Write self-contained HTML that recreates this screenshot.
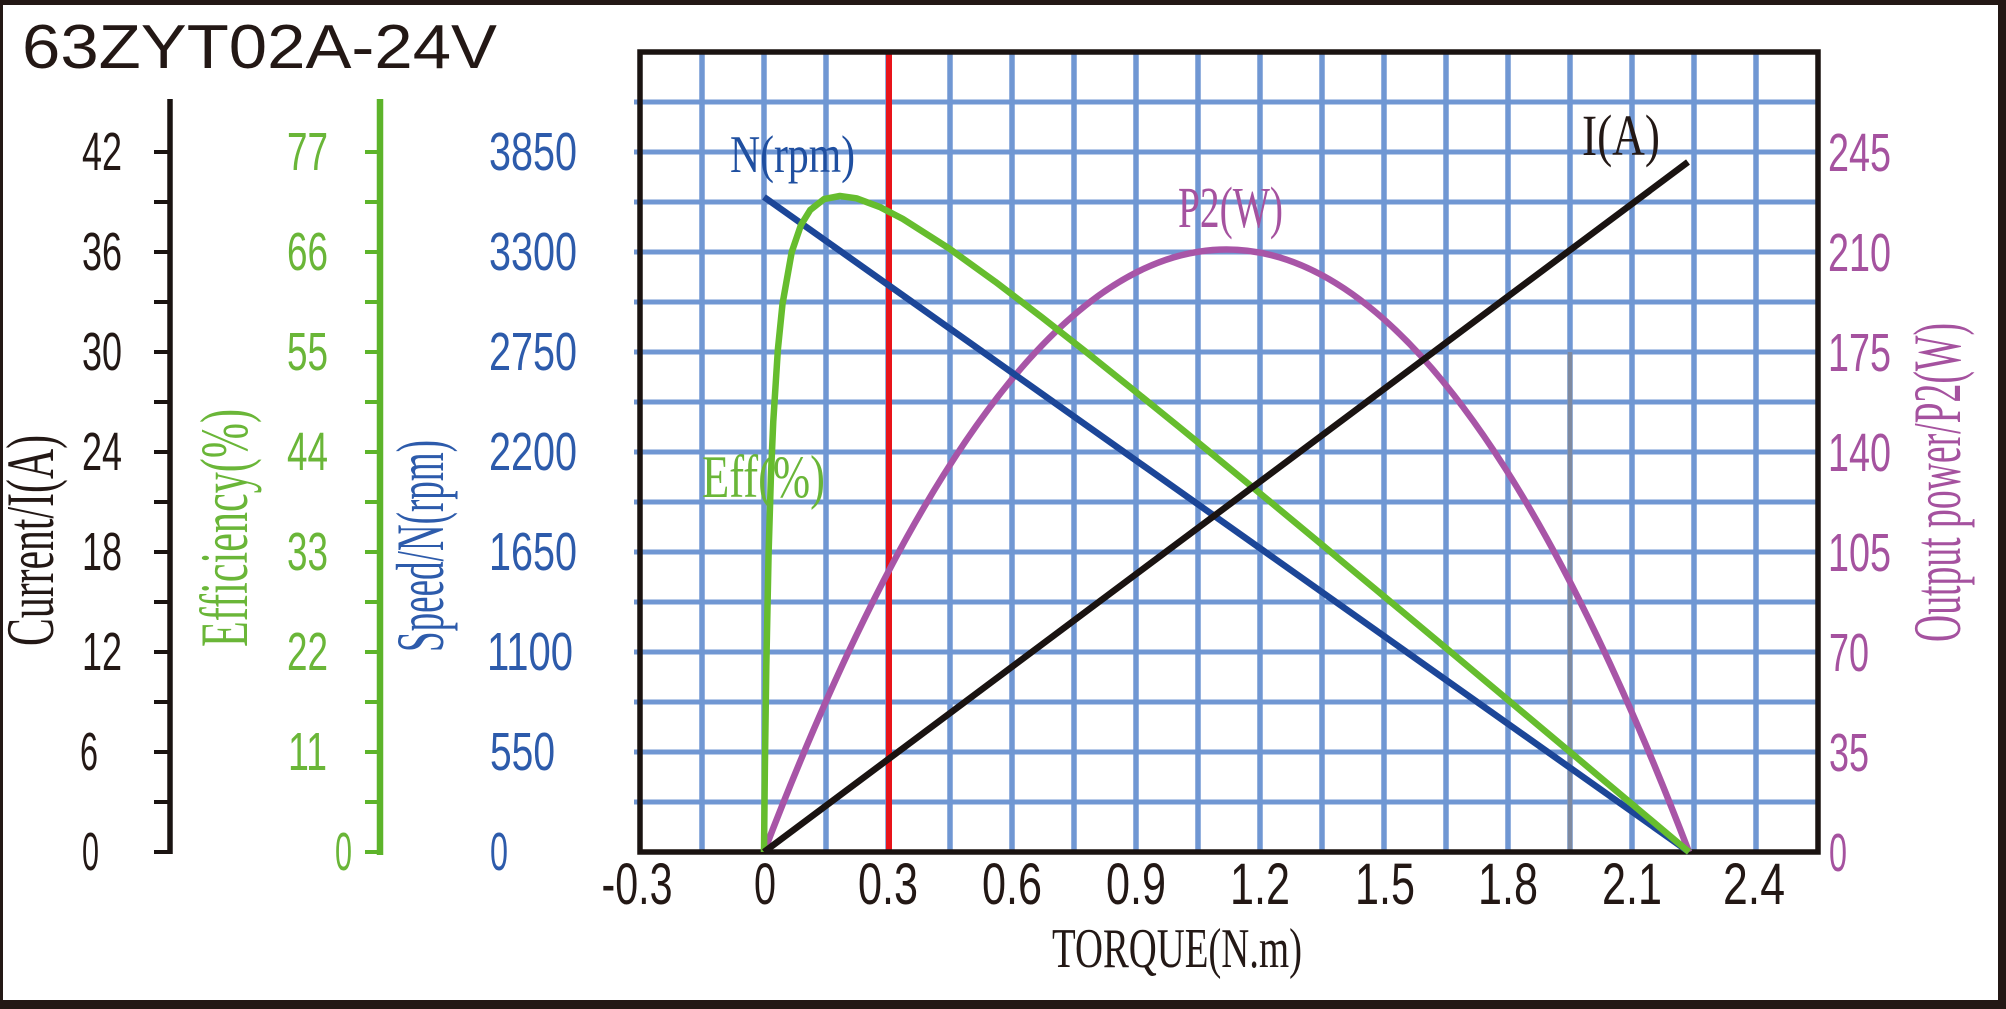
<!DOCTYPE html>
<html>
<head>
<meta charset="utf-8">
<style>
  html,body{margin:0;padding:0;background:#ffffff;}
  svg{display:block;}
</style>
</head>
<body>
<svg xmlns="http://www.w3.org/2000/svg" width="2006" height="1009" viewBox="0 0 2006 1009">
  <rect x="0" y="0" width="2006" height="1009" fill="#ffffff"/>
  <!-- outer frame -->
  <rect x="0" y="0" width="2006" height="5" fill="#231815"/>
  <rect x="0" y="0" width="3" height="1009" fill="#231815"/>
  <rect x="1998" y="0" width="8" height="1009" fill="#231815"/>
  <rect x="0" y="1000" width="2006" height="9" fill="#231815"/>

  <!-- title -->
  <text x="22" y="68" font-family="Liberation Sans, Arial, sans-serif" font-size="62" fill="#231815" textLength="475" lengthAdjust="spacingAndGlyphs">63ZYT02A-24V</text>

  <!-- grid -->
  <g stroke="#7097d3" stroke-width="5.5">
    <line x1="702" y1="52" x2="702" y2="852"/>
    <line x1="764" y1="52" x2="764" y2="852"/>
    <line x1="826" y1="52" x2="826" y2="852"/>
    <line x1="888" y1="52" x2="888" y2="852"/>
    <line x1="950" y1="52" x2="950" y2="852"/>
    <line x1="1012" y1="52" x2="1012" y2="852"/>
    <line x1="1074" y1="52" x2="1074" y2="852"/>
    <line x1="1136" y1="52" x2="1136" y2="852"/>
    <line x1="1198" y1="52" x2="1198" y2="852"/>
    <line x1="1260" y1="52" x2="1260" y2="852"/>
    <line x1="1322" y1="52" x2="1322" y2="852"/>
    <line x1="1384" y1="52" x2="1384" y2="852"/>
    <line x1="1446" y1="52" x2="1446" y2="852"/>
    <line x1="1508" y1="52" x2="1508" y2="852"/>
    <line x1="1570" y1="52" x2="1570" y2="852"/>
    <line x1="1632" y1="52" x2="1632" y2="852"/>
    <line x1="1694" y1="52" x2="1694" y2="852"/>
    <line x1="1756" y1="52" x2="1756" y2="852"/>
  </g>
  <g stroke="#7097d3" stroke-width="5">
    <line x1="634" y1="802" x2="1818" y2="802"/>
    <line x1="634" y1="752" x2="1818" y2="752"/>
    <line x1="634" y1="702" x2="1818" y2="702"/>
    <line x1="634" y1="652" x2="1818" y2="652"/>
    <line x1="634" y1="602" x2="1818" y2="602"/>
    <line x1="634" y1="552" x2="1818" y2="552"/>
    <line x1="634" y1="502" x2="1818" y2="502"/>
    <line x1="634" y1="452" x2="1818" y2="452"/>
    <line x1="634" y1="402" x2="1818" y2="402"/>
    <line x1="634" y1="352" x2="1818" y2="352"/>
    <line x1="634" y1="302" x2="1818" y2="302"/>
    <line x1="634" y1="252" x2="1818" y2="252"/>
    <line x1="634" y1="202" x2="1818" y2="202"/>
    <line x1="634" y1="152" x2="1818" y2="152"/>
    <line x1="634" y1="102" x2="1818" y2="102"/>
  </g>
  <!-- gray marker line -->
  <line x1="1570" y1="352" x2="1570" y2="852" stroke="#7f8aa0" stroke-width="4.5"/>

  <!-- red line -->
  <line x1="889" y1="52" x2="889" y2="852" stroke="#e8141a" stroke-width="6"/>

  <!-- plot border -->
  <rect x="640" y="52" width="1178" height="800" fill="none" stroke="#1a1311" stroke-width="5.5"/>

  <!-- curves -->
  <path d="M764,852 Q1226.5,-353 1689,852" fill="none" stroke="#a855a7" stroke-width="6.5"/>
  <line x1="764" y1="197" x2="1689" y2="852" stroke="#1c4698" stroke-width="6.5"/>
  <path d="M764,852 L764.9,765.5 L766.3,666.7 L768.6,553.1 L770.9,476.6 L773.25,421.8 L777.9,349.2 L782.5,303.9 L791.75,251.9 L801,224.9 L810.25,209.9 L824.1,199.1 L839.9,196 L856.5,198.3 L879.6,206.9 L902.75,218.9 L949,248.4 L995.25,281.7 L1041.5,317 L1087.75,353.3 L1134,390.4 L1180.25,427.9 L1226.5,465.8 L1272.75,503.9 L1319,542.2 L1365.25,580.7 L1411.5,619.2 L1457.75,657.9 L1504,696.6 L1550.25,735.4 L1596.5,774.2 L1642.75,813.1 L1689,852" fill="none" stroke="#66bd2e" stroke-width="6.5" stroke-linejoin="round"/>
  <line x1="764" y1="852" x2="1688" y2="162" stroke="#1a1311" stroke-width="6.5"/>

  <!-- in-plot labels -->
  <g font-family="Liberation Serif, Times New Roman, serif">
    <text x="730" y="172" font-size="53" fill="#1f4fa0" textLength="125" lengthAdjust="spacingAndGlyphs">N(rpm)</text>
    <text x="1582" y="155" font-size="58" fill="#231815" textLength="78" lengthAdjust="spacingAndGlyphs">I(A)</text>
    <text x="1178" y="227" font-size="58" fill="#a5529f" textLength="105" lengthAdjust="spacingAndGlyphs">P2(W)</text>
    <text x="702" y="497" font-size="60" fill="#6ab638" textLength="123" lengthAdjust="spacingAndGlyphs">Eff(%)</text>
    <text x="1052" y="967" font-size="56" fill="#231815" textLength="250" lengthAdjust="spacingAndGlyphs">TORQUE(N.m)</text>
  </g>

  <!-- x tick labels -->
  <g font-family="Liberation Sans, Arial, sans-serif" font-size="58" fill="#231815" text-anchor="middle">
    <text x="637" y="904" textLength="71" lengthAdjust="spacingAndGlyphs">-0.3</text>
    <text x="765" y="904" textLength="22" lengthAdjust="spacingAndGlyphs">0</text>
    <text x="888" y="904" textLength="60" lengthAdjust="spacingAndGlyphs">0.3</text>
    <text x="1012" y="904" textLength="60" lengthAdjust="spacingAndGlyphs">0.6</text>
    <text x="1136" y="904" textLength="60" lengthAdjust="spacingAndGlyphs">0.9</text>
    <text x="1260" y="904" textLength="60" lengthAdjust="spacingAndGlyphs">1.2</text>
    <text x="1385" y="904" textLength="60" lengthAdjust="spacingAndGlyphs">1.5</text>
    <text x="1508" y="904" textLength="60" lengthAdjust="spacingAndGlyphs">1.8</text>
    <text x="1632" y="904" textLength="60" lengthAdjust="spacingAndGlyphs">2.1</text>
    <text x="1754" y="904" textLength="62" lengthAdjust="spacingAndGlyphs">2.4</text>
  </g>

  <!-- current axis -->
  <g stroke="#1a1311">
    <line x1="170" y1="99" x2="170" y2="854" stroke-width="5.5"/>
    <g stroke-width="4">
      <line x1="154" y1="852" x2="170" y2="852"/>
      <line x1="154" y1="802" x2="170" y2="802"/>
      <line x1="154" y1="752" x2="170" y2="752"/>
      <line x1="154" y1="702" x2="170" y2="702"/>
      <line x1="154" y1="652" x2="170" y2="652"/>
      <line x1="154" y1="602" x2="170" y2="602"/>
      <line x1="154" y1="552" x2="170" y2="552"/>
      <line x1="154" y1="502" x2="170" y2="502"/>
      <line x1="154" y1="452" x2="170" y2="452"/>
      <line x1="154" y1="402" x2="170" y2="402"/>
      <line x1="154" y1="352" x2="170" y2="352"/>
      <line x1="154" y1="302" x2="170" y2="302"/>
      <line x1="154" y1="252" x2="170" y2="252"/>
      <line x1="154" y1="202" x2="170" y2="202"/>
      <line x1="154" y1="152" x2="170" y2="152"/>
    </g>
  </g>
  <g font-family="Liberation Sans, Arial, sans-serif" font-size="54" fill="#231815">
    <text x="82" y="170" textLength="40" lengthAdjust="spacingAndGlyphs">42</text>
    <text x="82" y="270" textLength="40" lengthAdjust="spacingAndGlyphs">36</text>
    <text x="82" y="370" textLength="40" lengthAdjust="spacingAndGlyphs">30</text>
    <text x="82" y="470" textLength="40" lengthAdjust="spacingAndGlyphs">24</text>
    <text x="82" y="570" textLength="40" lengthAdjust="spacingAndGlyphs">18</text>
    <text x="82" y="670" textLength="40" lengthAdjust="spacingAndGlyphs">12</text>
    <text x="80" y="770" textLength="18" lengthAdjust="spacingAndGlyphs">6</text>
    <text x="82" y="870" textLength="17" lengthAdjust="spacingAndGlyphs">0</text>
  </g>
  <text transform="translate(53,646) rotate(-90)" font-family="Liberation Serif, Times New Roman, serif" font-size="68" fill="#231815" textLength="211" lengthAdjust="spacingAndGlyphs">Current/I(A)</text>

  <!-- efficiency axis -->
  <g stroke="#5db42a">
    <line x1="380" y1="99" x2="380" y2="855" stroke-width="6.5"/>
    <g stroke-width="4">
      <line x1="365" y1="852" x2="380" y2="852"/>
      <line x1="365" y1="802" x2="380" y2="802"/>
      <line x1="365" y1="752" x2="380" y2="752"/>
      <line x1="365" y1="702" x2="380" y2="702"/>
      <line x1="365" y1="652" x2="380" y2="652"/>
      <line x1="365" y1="602" x2="380" y2="602"/>
      <line x1="365" y1="552" x2="380" y2="552"/>
      <line x1="365" y1="502" x2="380" y2="502"/>
      <line x1="365" y1="452" x2="380" y2="452"/>
      <line x1="365" y1="402" x2="380" y2="402"/>
      <line x1="365" y1="352" x2="380" y2="352"/>
      <line x1="365" y1="302" x2="380" y2="302"/>
      <line x1="365" y1="252" x2="380" y2="252"/>
      <line x1="365" y1="202" x2="380" y2="202"/>
      <line x1="365" y1="152" x2="380" y2="152"/>
    </g>
  </g>
  <g font-family="Liberation Sans, Arial, sans-serif" font-size="54" fill="#6ab638">
    <text x="287" y="170" textLength="41" lengthAdjust="spacingAndGlyphs">77</text>
    <text x="287" y="270" textLength="41" lengthAdjust="spacingAndGlyphs">66</text>
    <text x="287" y="370" textLength="41" lengthAdjust="spacingAndGlyphs">55</text>
    <text x="287" y="470" textLength="41" lengthAdjust="spacingAndGlyphs">44</text>
    <text x="287" y="570" textLength="41" lengthAdjust="spacingAndGlyphs">33</text>
    <text x="287" y="670" textLength="41" lengthAdjust="spacingAndGlyphs">22</text>
    <text x="288" y="770" textLength="39" lengthAdjust="spacingAndGlyphs">11</text>
    <text x="335" y="870" textLength="17" lengthAdjust="spacingAndGlyphs">0</text>
  </g>
  <text transform="translate(247,647) rotate(-90)" font-family="Liberation Serif, Times New Roman, serif" font-size="68" fill="#6ab638" textLength="238" lengthAdjust="spacingAndGlyphs">Efficiency(%)</text>

  <!-- speed axis labels -->
  <g font-family="Liberation Sans, Arial, sans-serif" font-size="54" fill="#2d5bab">
    <text x="489" y="170" textLength="88" lengthAdjust="spacingAndGlyphs">3850</text>
    <text x="489" y="270" textLength="88" lengthAdjust="spacingAndGlyphs">3300</text>
    <text x="489" y="370" textLength="88" lengthAdjust="spacingAndGlyphs">2750</text>
    <text x="489" y="470" textLength="88" lengthAdjust="spacingAndGlyphs">2200</text>
    <text x="489" y="570" textLength="88" lengthAdjust="spacingAndGlyphs">1650</text>
    <text x="487" y="670" textLength="86" lengthAdjust="spacingAndGlyphs">1100</text>
    <text x="490" y="770" textLength="65" lengthAdjust="spacingAndGlyphs">550</text>
    <text x="490" y="870" textLength="18" lengthAdjust="spacingAndGlyphs">0</text>
  </g>
  <text transform="translate(443,652) rotate(-90)" font-family="Liberation Serif, Times New Roman, serif" font-size="68" fill="#2d5bab" textLength="212" lengthAdjust="spacingAndGlyphs">Speed/N(rpm)</text>

  <!-- power axis labels -->
  <g font-family="Liberation Sans, Arial, sans-serif" font-size="54" fill="#a5529f">
    <text x="1828" y="171" textLength="63" lengthAdjust="spacingAndGlyphs">245</text>
    <text x="1828" y="271" textLength="63" lengthAdjust="spacingAndGlyphs">210</text>
    <text x="1828" y="371" textLength="63" lengthAdjust="spacingAndGlyphs">175</text>
    <text x="1828" y="471" textLength="63" lengthAdjust="spacingAndGlyphs">140</text>
    <text x="1828" y="571" textLength="63" lengthAdjust="spacingAndGlyphs">105</text>
    <text x="1829" y="671" textLength="40" lengthAdjust="spacingAndGlyphs">70</text>
    <text x="1829" y="771" textLength="40" lengthAdjust="spacingAndGlyphs">35</text>
    <text x="1829" y="871" textLength="18" lengthAdjust="spacingAndGlyphs">0</text>
  </g>
  <text transform="translate(1960,642) rotate(-90)" font-family="Liberation Serif, Times New Roman, serif" font-size="68" fill="#a5529f" textLength="319" lengthAdjust="spacingAndGlyphs">Output power/P2(W)</text>
</svg>
</body>
</html>
